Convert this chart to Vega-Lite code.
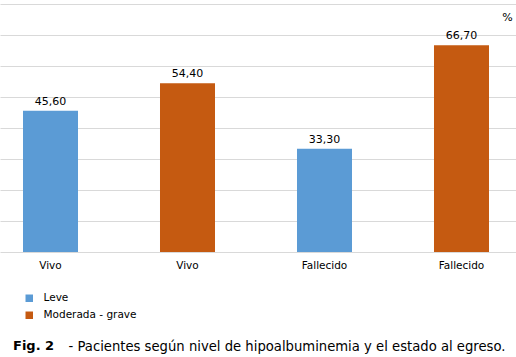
{
  "$schema": "https://vega.github.io/schema/vega-lite/v6.json",
  "width": 516,
  "height": 248,
  "autosize": {"type": "none"},
  "padding": {"left": 0, "top": 4, "right": 0, "bottom": 105},
  "background": "white",
  "config": {
    "view": {"stroke": null},
    "font": "DejaVu Sans",
    "locale": {"number": {"decimal": ",", "thousands": ".", "grouping": [3], "currency": ["", " €"]}}
  },
  "title": {
    "text": "Fig. 2",
    "orient": "bottom",
    "anchor": "start",
    "frame": "group",
    "font": "DejaVu Sans",
    "fontSize": 13,
    "fontWeight": "bold",
    "color": "#000000",
    "dx": 13,
    "dy": -12,
    "offset": 0
  },
  "data": {
    "values": [
      {"id": "Vivo|Leve", "nivel": "Leve", "valor": 45.6},
      {"id": "Vivo|Moderada - grave", "nivel": "Moderada - grave", "valor": 54.4},
      {"id": "Fallecido|Leve", "nivel": "Leve", "valor": 33.3},
      {"id": "Fallecido|Moderada - grave", "nivel": "Moderada - grave", "valor": 66.7}
    ]
  },
  "encoding": {
    "x": {
      "field": "id",
      "type": "nominal",
      "sort": null,
      "scale": {"paddingInner": 0.5985, "paddingOuter": 0.1825, "align": 0.46},
      "axis": {
        "labelExpr": "split(datum.value, '|')[0]",
        "labelAngle": 0,
        "labelFontSize": 10.5,
        "labelColor": "#000000",
        "labelPadding": 8,
        "ticks": false,
        "domain": false,
        "title": "- Pacientes según nivel de hipoalbuminemia y el estado al egreso.",
        "titleFontSize": 13.2,
        "titleFontWeight": "normal",
        "titleColor": "#000000",
        "titleAnchor": "start",
        "titleAlign": "left",
        "titleBaseline": "middle",
        "titleX": 68,
        "titleY": 94
      }
    },
    "y": {
      "field": "valor",
      "type": "quantitative",
      "scale": {"domain": [0, 80]},
      "axis": {
        "orient": "right",
        "values": [0, 10, 20, 30, 40, 50, 60, 70, 80],
        "labels": false,
        "ticks": false,
        "domain": false,
        "grid": true,
        "gridColor": "#d9d9d9",
        "gridWidth": 1,
        "title": "%",
        "titleAngle": 0,
        "titleFontSize": 11,
        "titleFontWeight": "normal",
        "titleColor": "#000000",
        "titleAlign": "center",
        "titleBaseline": "middle",
        "titleX": -9,
        "titleY": 13
      }
    }
  },
  "layer": [
    {
      "mark": {"type": "bar"},
      "encoding": {
        "color": {
          "field": "nivel",
          "type": "nominal",
          "scale": {"domain": ["Leve", "Moderada - grave"], "range": ["#5b9bd5", "#c55a11"]},
          "legend": {
            "title": null,
            "orient": "none",
            "legendX": 24,
            "legendY": 289,
            "symbolType": "square",
            "symbolSize": 56,
            "symbolStrokeWidth": 0,
            "labelFontSize": 10.5,
            "labelColor": "#000000",
            "labelOffset": 9,
            "rowPadding": 6
          }
        }
      }
    },
    {
      "mark": {"type": "text", "baseline": "alphabetic", "dy": -6, "fontSize": 11, "color": "#000000"},
      "encoding": {
        "text": {"field": "valor", "type": "quantitative", "format": ".2f"}
      }
    }
  ]
}
